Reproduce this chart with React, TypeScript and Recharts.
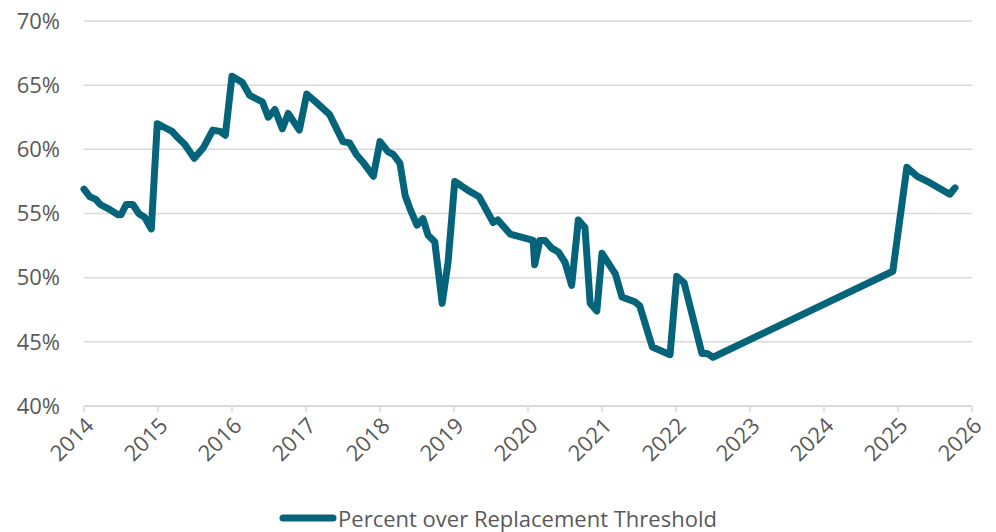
import React from "react";
import { LineChart, Line, XAxis, YAxis, CartesianGrid } from "recharts";

const years: number[] = [
  2014.0, 2014.08, 2014.16, 2014.22, 2014.35, 2014.46, 2014.5, 2014.57, 2014.66, 2014.74, 2014.82, 2014.91,
  2014.99, 2015.09, 2015.19, 2015.27, 2015.36, 2015.49, 2015.61, 2015.74, 2015.84, 2015.91,
  2016.0, 2016.14, 2016.24, 2016.41, 2016.49, 2016.58, 2016.68, 2016.76, 2016.91,
  2017.01, 2017.15, 2017.32, 2017.5, 2017.59, 2017.68, 2017.77, 2017.91,
  2018.0, 2018.11, 2018.18, 2018.27, 2018.34, 2018.41, 2018.5, 2018.58, 2018.65, 2018.74, 2018.84, 2018.92,
  2019.01, 2019.09, 2019.19, 2019.34, 2019.53, 2019.59, 2019.76,
  2020.07, 2020.09, 2020.16, 2020.23, 2020.32, 2020.41, 2020.5, 2020.59, 2020.68, 2020.77, 2020.84, 2020.93,
  2021.0, 2021.18, 2021.27, 2021.45, 2021.51, 2021.68, 2021.92,
  2022.01, 2022.11, 2022.35, 2022.42, 2022.5,
  2024.93, 2025.12, 2025.26, 2025.43, 2025.7, 2025.77,
];

const percents: number[] = [
  56.9, 56.3, 56.1, 55.7, 55.3, 54.9, 54.9, 55.7, 55.7, 55.0, 54.7, 53.8,
  62.0, 61.7, 61.4, 60.9, 60.4, 59.3, 60.1, 61.5, 61.4, 61.1,
  65.7, 65.2, 64.2, 63.7, 62.5, 63.1, 61.6, 62.8, 61.5,
  64.3, 63.6, 62.7, 60.6, 60.5, 59.6, 59.0, 57.9,
  60.6, 59.8, 59.6, 58.9, 56.4, 55.3, 54.1, 54.6, 53.3, 52.8, 48.0, 51.2,
  57.5, 57.2, 56.8, 56.3, 54.3, 54.5, 53.4,
  52.9, 51.0, 52.9, 52.9, 52.3, 52.0, 51.2, 49.4, 54.5, 53.9, 48.0, 47.4,
  51.9, 50.3, 48.5, 48.1, 47.8, 44.6, 44.0,
  50.1, 49.6, 44.1, 44.1, 43.8,
  50.5, 58.6, 57.9, 57.4, 56.5, 57.0,
];

const xTicks: number[] = [2014, 2015, 2016, 2017, 2018, 2019, 2020, 2021, 2022, 2023, 2024, 2025, 2026];
const yTicks: number[] = [40, 45, 50, 55, 60, 65, 70];
const seriesName = "Percent over Replacement Threshold";

const data = years.map((x, i) => ({ x, v: percents[i] }));

const LINE = "#05647A";
const TEXT = "#595959";
const GRID = "#D9D9D9";
const FONT = "'Open Sans', 'Noto Sans', sans-serif";

export default function App() {
  return (
    <div style={{ position: "relative", width: 980, height: 532, marginTop: -8, fontFamily: FONT }}>
      <LineChart width={980} height={524} data={data} margin={{ top: 21, right: 16, left: 0, bottom: 38 }}>
        <CartesianGrid vertical={false} stroke={GRID} strokeWidth={1.5} />
        <XAxis
          type="number"
          dataKey="x"
          domain={[2014, 2026]}
          ticks={xTicks}
          interval={0}
          height={80}
          axisLine={{ stroke: GRID, strokeWidth: 1.5 }}
          tickLine={{ stroke: GRID, strokeWidth: 1.5 }}
          tickSize={6}
          tickMargin={4}
          angle={-45}
          textAnchor="end"
          tick={{ fill: TEXT, fontSize: 22, fontFamily: FONT }}
        />
        <YAxis
          type="number"
          domain={[40, 70]}
          ticks={yTicks}
          interval={0}
          width={76}
          axisLine={false}
          tickLine={false}
          tickSize={0}
          tickMargin={24}
          tickFormatter={(v: number) => `${v}%`}
          tick={{ fill: TEXT, fontSize: 22, fontFamily: FONT }}
        />
        <Line
          type="linear"
          dataKey="v"
          name={seriesName}
          stroke={LINE}
          strokeWidth={7}
          strokeLinejoin="round"
          strokeLinecap="round"
          dot={false}
          activeDot={false}
          isAnimationActive={false}
        />
      </LineChart>
      <div
        style={{
          position: "absolute",
          top: 507,
          left: 0,
          width: 980,
          display: "flex",
          justifyContent: "center",
          alignItems: "center",
          color: TEXT,
          fontSize: 22,
          fontFamily: FONT,
          lineHeight: "22px",
          height: 22,
        }}
      >
        <svg width={58} height={12} style={{ marginRight: 1 }}>
          <line x1={4} y1={6} x2={54} y2={6} stroke={LINE} strokeWidth={7} strokeLinecap="round" />
        </svg>
        <span style={{ display: "inline-block", lineHeight: "22px", height: 22 }}>{seriesName}</span>
      </div>
    </div>
  );
}
